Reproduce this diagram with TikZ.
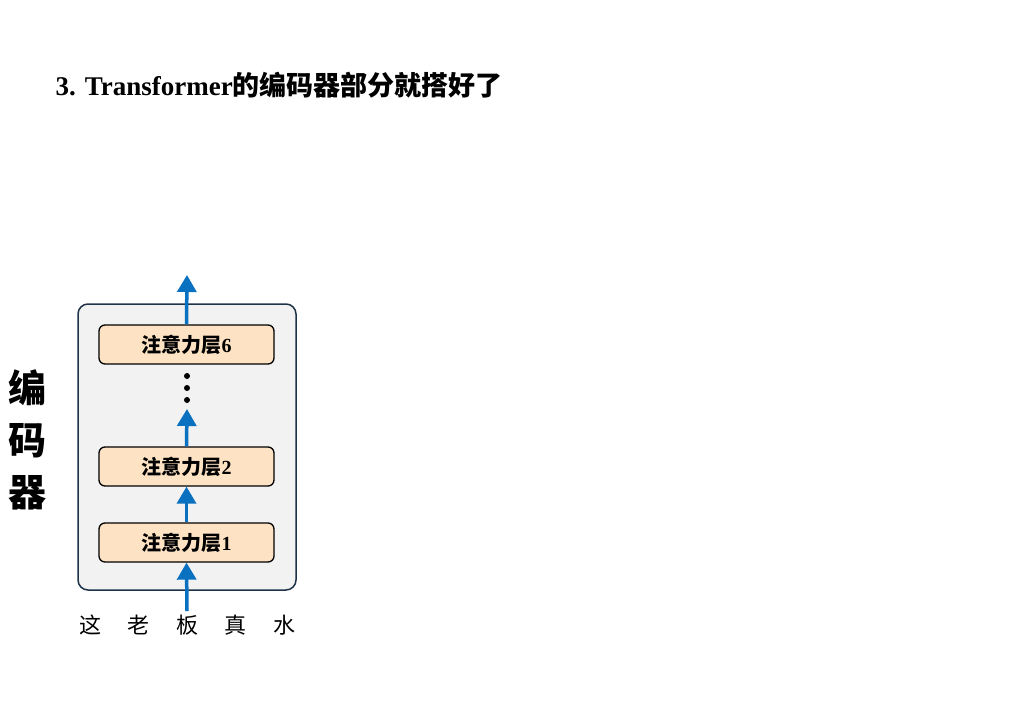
\documentclass[tikz,border=0pt]{standalone}
\usepackage{fontspec}
\setmainfont{Liberation Serif}
\newfontfamily\cjk{Noto Sans CJK SC}
\usetikzlibrary{arrows.meta}
\definecolor{arrowblue}{HTML}{0A70C0}
\definecolor{boxgray}{HTML}{F2F2F2}
\definecolor{boxedge}{HTML}{1F3347}
\definecolor{peach}{HTML}{FDE3C3}
\tikzset{
  layer/.style={draw=black, line width=1.3pt, fill=peach, rounded corners=6pt, minimum width=175pt, minimum height=39pt, inner sep=0pt, font=\fontsize{20}{22}\selectfont\bfseries},
  uparrow/.style={draw=arrowblue, line width=3.5pt, -{Triangle[length=17pt,width=19pt]}},
  word/.style={font=\cjk\fontsize{22}{24}\selectfont},
  big/.style={font=\cjk\bfseries\fontsize{38}{40}\selectfont}
}
\begin{document}
\begin{tikzpicture}[x=1pt,y=-1pt]
\useasboundingbox (0,0) rectangle (1024,720);
\node[anchor=west, font=\fontsize{27}{30}\selectfont\bfseries] (title) at (52,85) {3. Transformer{\cjk 的编码器部分就搭好了}};
\node[draw=boxedge, line width=1.5pt, fill=boxgray, rounded corners=10pt, minimum width=218pt, minimum height=286pt, inner sep=0pt] (enc) at (187,447) {};
\node[layer] (l6) at (186.5,344.5) {{\cjk 注意力层}6};
\node[layer] (l2) at (186.5,466.5) {{\cjk 注意力层}2};
\node[layer] (l1) at (186.5,542.5) {{\cjk 注意力层}1};
\foreach \y/\n in {376/d1,388/d2,400/d3} \fill (187,\y) circle (3pt) coordinate (\n);
\node[word] (w1) at (90,625) {这};
\node[word] (w2) at (138,625) {老};
\node[word] (w3) at (187,625) {板};
\node[word] (w4) at (235,625) {真};
\node[word] (w5) at (284,625) {水};
\coordinate (in) at (187,611);
\coordinate (out) at (187,275);
\coordinate (dotlow) at (187,409);
\draw[uparrow] (in) -- (l1.south);
\draw[uparrow] (l2.north) -- (dotlow);
\draw[uparrow] (l1.north) -- (l2.south);
\draw[uparrow] (l6.north) -- (out);
\node[big] (c1) at (28,388) {编};
\node[big] (c2) at (28,441) {码};
\node[big] (c3) at (28,493) {器};
\end{tikzpicture}
\end{document}
